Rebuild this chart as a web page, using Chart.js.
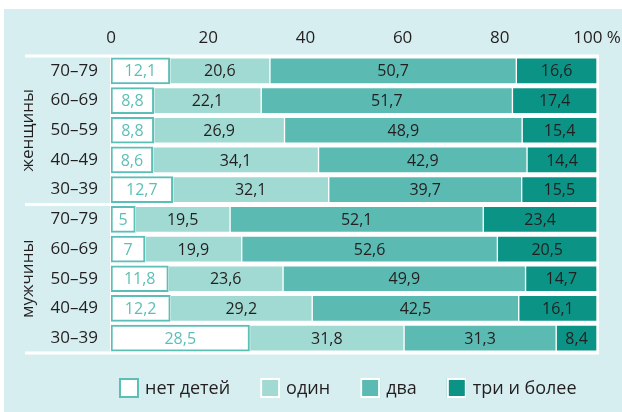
<!DOCTYPE html>
<html lang="ru">
<head>
<meta charset="UTF-8">
<title>Число детей по возрасту</title>
<script src="https://cdn.jsdelivr.net/npm/chart.js"></script>
<style>
  html, body { margin: 0; padding: 0; background: #fff; }
  canvas { display: block; }
</style>
</head>
<body>
<canvas id="grafico" width="622" height="412"></canvas>

<script>
  // rows top to bottom: women 70–79 … 30–39, then men 70–79 … 30–39
  const ages = ['70–79', '60–69', '50–59', '40–49', '30–39', '70–79', '60–69', '50–59', '40–49', '30–39'];
  const groups = ['женщины', 'мужчины'];
  const seriesNames = ['нет детей', 'один', 'два', 'три и более'];
  const noChildren = [12.1, 8.8, 8.8, 8.6, 12.7, 5, 7, 11.8, 12.2, 28.5];
  const oneChild = [20.6, 22.1, 26.9, 34.1, 32.1, 19.5, 19.9, 23.6, 29.2, 31.8];
  const twoChildren = [50.7, 51.7, 48.9, 42.9, 39.7, 52.1, 52.6, 49.9, 42.5, 31.3];
  const threePlus = [16.6, 17.4, 15.4, 14.4, 15.5, 23.4, 20.5, 14.7, 16.1, 8.4];
  const xTicks = [0, 20, 40, 60, 80, 100];

  const FONT = '"Open Sans", sans-serif';
  const PANEL = '#d6eef0';
  const TEAL_LINE = '#5cbfb6';
  const fills = ['#ffffff', '#a1dad2', '#5bbbb3', '#0b9486'];
  const strokes = [TEAL_LINE, '#ffffff', '#ffffff', '#ffffff'];

  function fmt(v) {
    return String(v).replace('.', ',');
  }

  // panel, white plot area and group separators
  const fondo = {
    id: 'fondo',
    beforeDraw(chart) {
      const ctx = chart.ctx;
      const a = chart.chartArea;
      const y = chart.scales.y;
      ctx.save();
      ctx.fillStyle = '#fff';
      ctx.fillRect(0, 0, chart.width, chart.height);
      ctx.fillStyle = PANEL;
      ctx.fillRect(4, 9, chart.width - 4, chart.height - 9);
      ctx.fillStyle = '#fff';
      ctx.fillRect(a.left - 1, a.top, a.right - a.left + 3, a.bottom - a.top);
      const lines = [y.getPixelForValue(-0.5), y.getPixelForValue(4.5), y.getPixelForValue(9.5)];
      lines.forEach(py => {
        ctx.fillRect(25, py - 1.5, a.right + 2 - 25, 3);
      });
      ctx.restore();
    }
  };

  // numbers inside bars, group names, legend
  const rotulos = {
    id: 'rotulos',
    afterDatasetsDraw(chart) {
      const ctx = chart.ctx;
      ctx.save();
      ctx.font = '16px ' + FONT;
      ctx.textAlign = 'center';
      ctx.textBaseline = 'middle';
      chart.data.datasets.forEach((ds, i) => {
        const meta = chart.getDatasetMeta(i);
        meta.data.forEach((bar, j) => {
          ctx.fillStyle = i === 0 ? TEAL_LINE : '#231f20';
          ctx.fillText(fmt(ds.data[j]), (bar.x + bar.base) / 2, bar.y + 1);
        });
      });
      ctx.restore();
    },
    afterDraw(chart) {
      const ctx = chart.ctx;
      const y = chart.scales.y;
      ctx.save();
      ctx.fillStyle = '#231f20';
      ctx.font = '17px ' + FONT;
      ctx.textAlign = 'center';
      ctx.textBaseline = 'middle';
      groups.forEach((g, k) => {
        const cy = (y.getPixelForValue(k * 5) + y.getPixelForValue(k * 5 + 4)) / 2;
        ctx.save();
        ctx.translate(28, cy);
        ctx.rotate(-Math.PI / 2);
        ctx.fillText(g, 0, 0);
        ctx.restore();
      });

      // legend
      ctx.font = '18px ' + FONT;
      ctx.textAlign = 'left';
      ctx.textBaseline = 'alphabetic';
      let x = 119;
      const top = 378;
      seriesNames.forEach((name, i) => {
        ctx.fillStyle = fills[i];
        ctx.fillRect(x, top, 20, 20);
        ctx.strokeStyle = strokes[i];
        ctx.lineWidth = 2;
        ctx.strokeRect(x + 1, top + 1, 18, 18);
        ctx.fillStyle = '#231f20';
        ctx.fillText(name, x + 26, top + 16);
        x += 26 + ctx.measureText(name).width + 30;
      });
      ctx.restore();
    }
  };

  const series = [noChildren, oneChild, twoChildren, threePlus];

  new Chart(document.getElementById('grafico').getContext('2d'), {
    type: 'bar',
    data: {
      labels: ages,
      datasets: series.map((d, i) => ({
        label: seriesNames[i],
        data: d,
        backgroundColor: fills[i],
        borderColor: strokes[i],
        borderWidth: i === 0 ? 2 : 1,
        borderSkipped: false,
        barThickness: 26
      }))
    },
    options: {
      indexAxis: 'y',
      responsive: false,
      animation: false,
      layout: { padding: { left: 0, right: 25, top: 0, bottom: 59 } },
      plugins: {
        legend: { display: false },
        tooltip: { enabled: false }
      },
      scales: {
        x: {
          position: 'top',
          stacked: true,
          min: 0,
          max: 100,
          afterFit(scale) {
            scale.height = 56;
            scale.paddingLeft = 0;
            scale.paddingRight = 0;
          },
          afterBuildTicks(scale) { scale.ticks = xTicks.map(v => ({ value: v })); },
          grid: { display: false, drawTicks: false },
          border: { display: false },
          ticks: {
            padding: 8,
            color: '#231f20',
            font: { family: FONT, size: 17 },
            callback: v => v === 100 ? '100 %' : v
          }
        },
        y: {
          stacked: true,
          afterFit(scale) {
            scale.width = 111;
            scale.paddingTop = 0;
            scale.paddingBottom = 0;
          },
          grid: { display: false, drawTicks: false },
          border: { display: false },
          ticks: {
            padding: 13,
            color: '#231f20',
            font: { family: FONT, size: 17 }
          }
        }
      }
    },
    plugins: [fondo, rotulos]
  });
</script>
</body>
</html>
